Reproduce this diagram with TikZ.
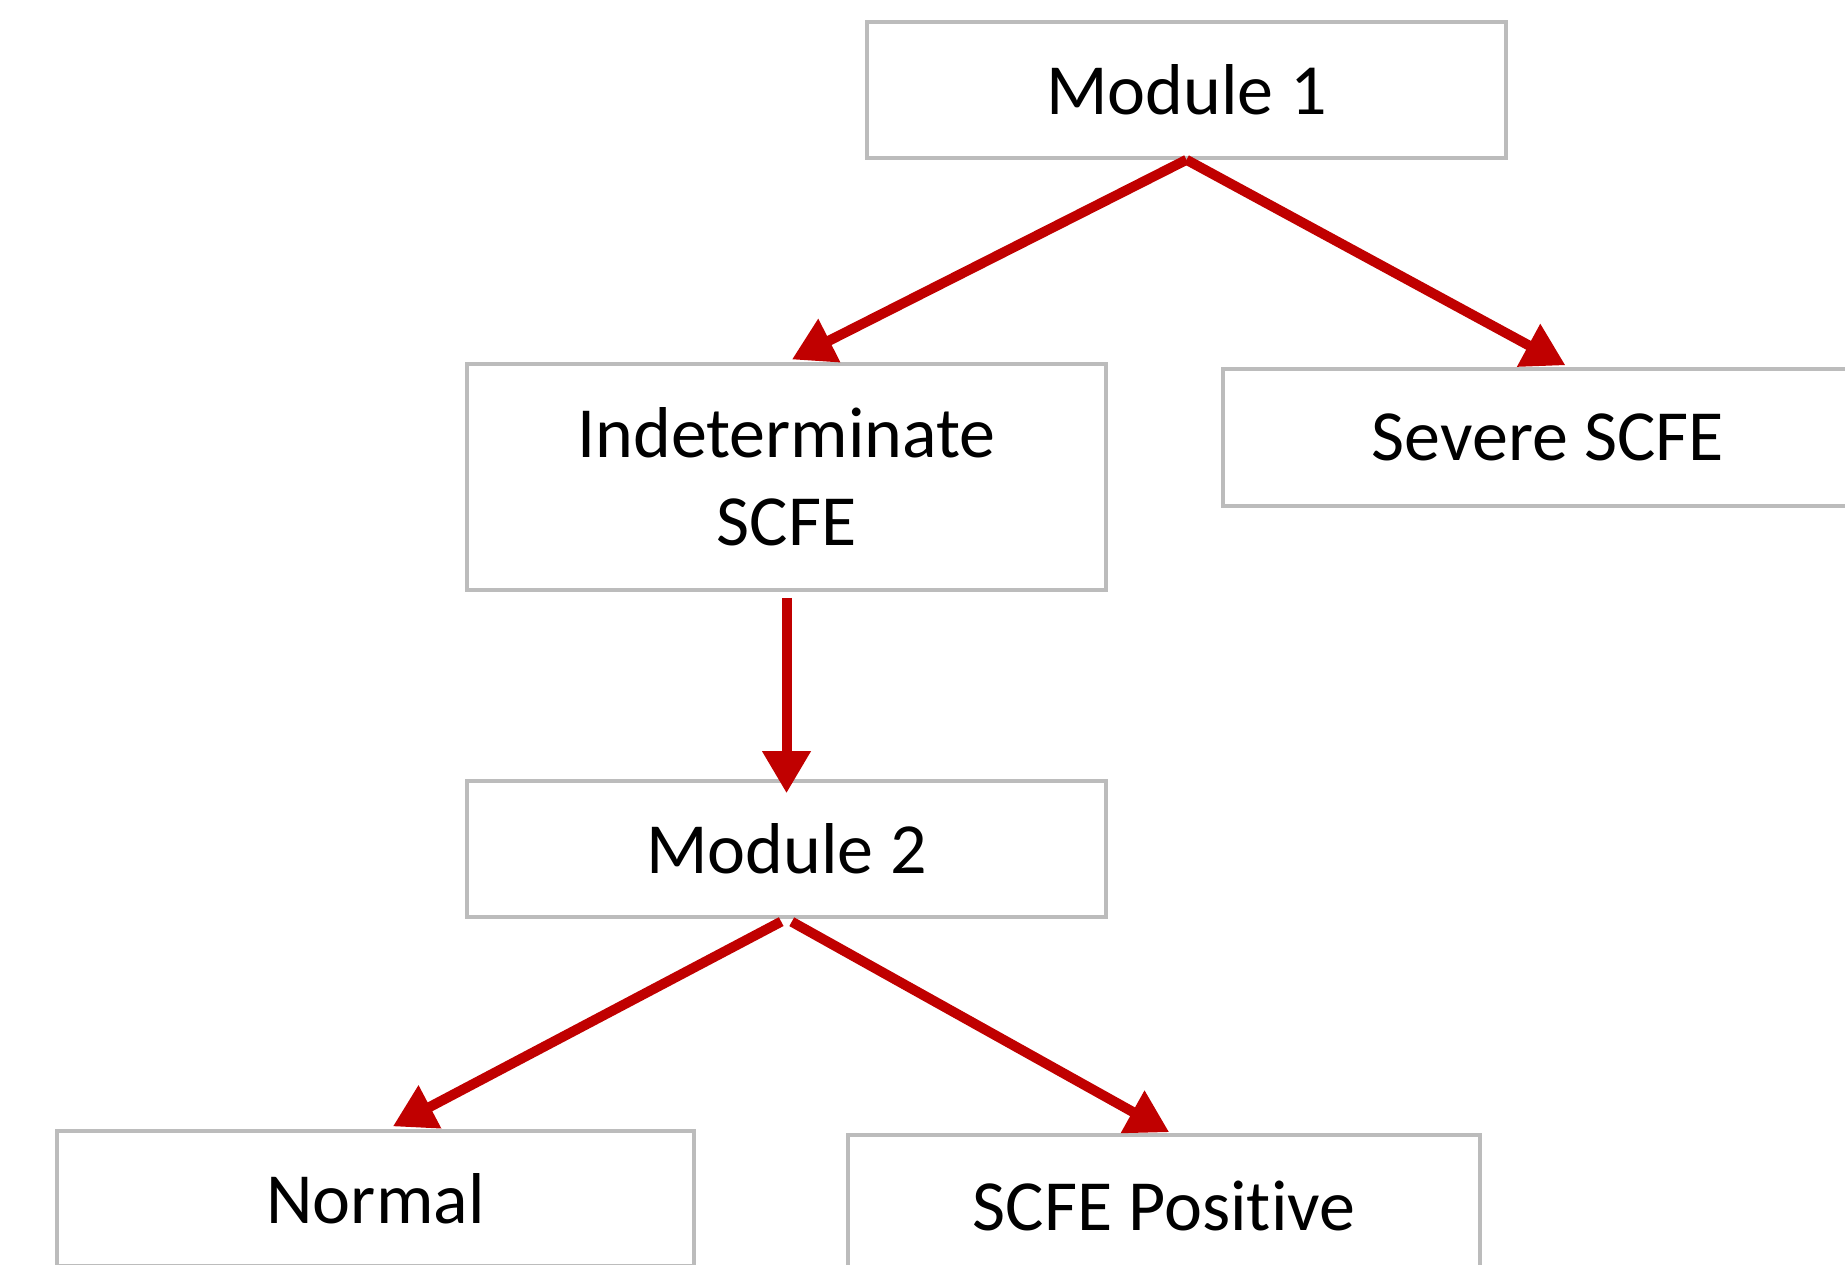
\documentclass[tikz,border=0pt]{standalone}
\usepackage{fontspec}
\setmainfont{Carlito}[Ligatures={NoCommon}]
\usetikzlibrary{arrows.meta}
\definecolor{boxgray}{HTML}{BCBCBC}
\definecolor{arrowred}{HTML}{C00000}

\begin{document}
\begin{tikzpicture}[x=0.5pt, y=-0.5pt,
    box/.style={draw=boxgray, line width=1.8pt, inner sep=0pt, align=center,
      font=\fontsize{36}{44}\selectfont},
    flow/.style={draw=arrowred, line width=5pt,
      -{Triangle[width=23pt, length=21pt]}}]
      \useasboundingbox (0, 0) rectangle (1845, 1264);

      \node[box, minimum width=319.5pt, minimum height=68pt] (mod1) at (1186.5, 90) {Module 1};
      \node[box, minimum width=319.5pt, minimum height=113pt] (indet) at (786.5, 477) {Indeterminate\\SCFE};
      \node[box, minimum width=325pt, minimum height=68.5pt] (severe) at (1548, 437.5) {Severe SCFE};
      \node[box, minimum width=319.5pt, minimum height=68pt] (mod2) at (786.5, 849) {Module 2};
      \node[box, minimum width=318.5pt, minimum height=67.5pt] (normal) at (375.5, 1198.5) {Normal};
      \node[box, minimum width=316pt, minimum height=71pt] (positive) at (1164, 1206) {SCFE Positive};

      \draw[flow, shorten >=3pt] (mod1.south) -- (indet.north);
      \draw[flow, shorten >=2pt] (mod1.south) -- ([xshift=10.5pt]severe.north);
      \draw[flow, shorten <=3pt, shorten >=-7pt] (indet.south) -- (mod2.north);
      \draw[flow, shorten <=3pt, shorten >=3pt] (mod2.south) -- ([xshift=6pt]normal.north);
      \draw[flow, shorten <=3pt, shorten >=1pt] (mod2.south) -- ([xshift=3.5pt]positive.north);
\end{tikzpicture}
\end{document}
